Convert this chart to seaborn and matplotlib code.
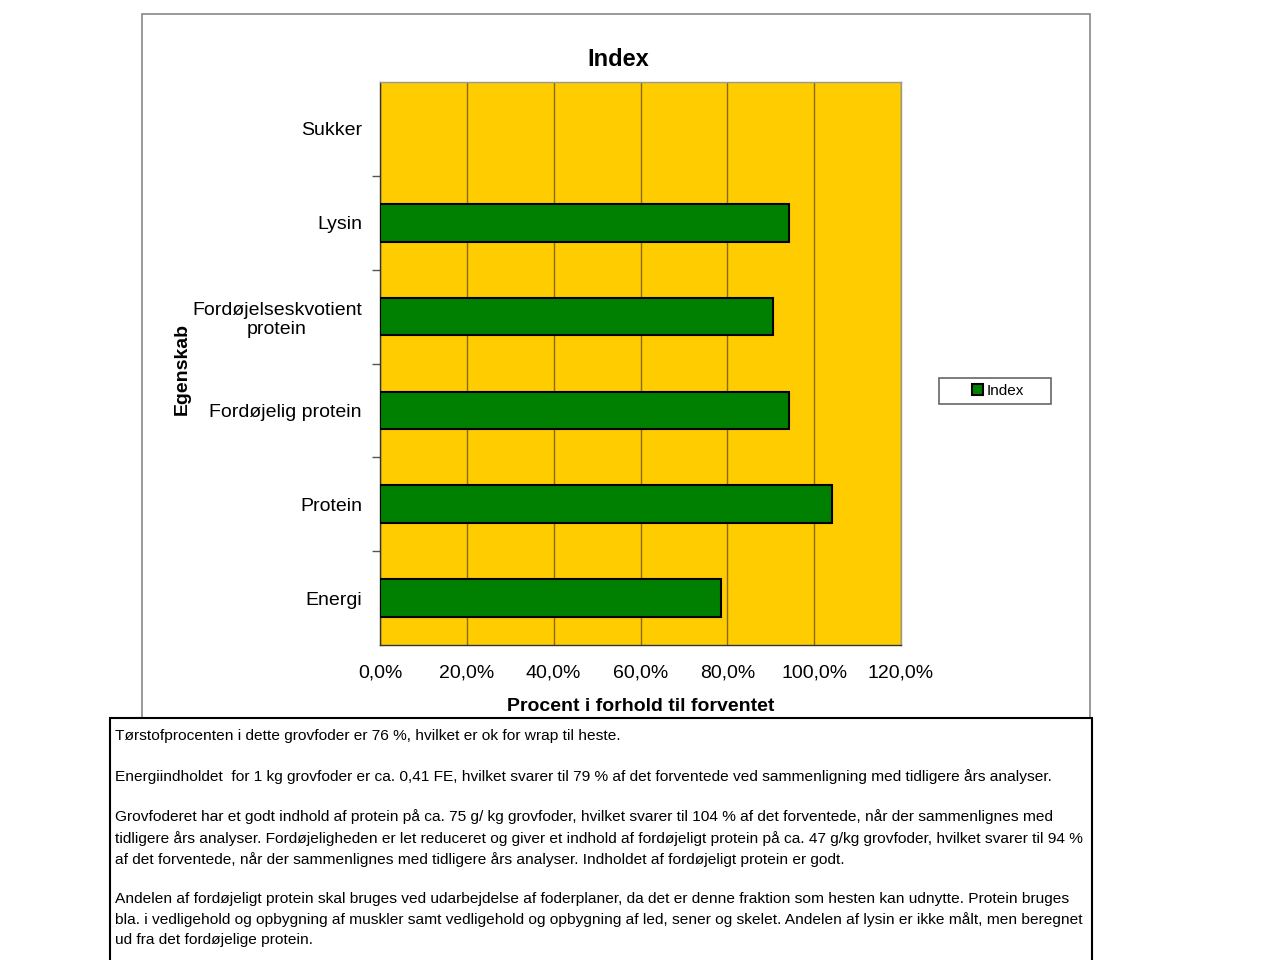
import matplotlib
matplotlib.use("Agg")
import matplotlib.pyplot as plt
import seaborn as sns
import pandas as pd
import numpy as np
from matplotlib.patches import Rectangle
from matplotlib.ticker import FuncFormatter, FixedLocator

categories = ["Sukker", "Lysin", "Fordøjelseskvotient\nprotein", "Fordøjelig protein", "Protein", "Energi"]
values = [np.nan, 0.942, 0.905, 0.942, 1.041, 0.786]
series_name = "Index"
xticks = [0.0, 0.2, 0.4, 0.6, 0.8, 1.0, 1.2]

note_lines = [
    "Tørstofprocenten i dette grovfoder er 76 %, hvilket er ok for wrap til heste.",
    "",
    "Energiindholdet  for 1 kg grovfoder er ca. 0,41 FE, hvilket svarer til 79 % af det forventede ved sammenligning med tidligere års analyser.",
    "",
    "Grovfoderet har et godt indhold af protein på ca. 75 g/ kg grovfoder, hvilket svarer til 104 % af det forventede, når der sammenlignes med",
    "tidligere års analyser. Fordøjeligheden er let reduceret og giver et indhold af fordøjeligt protein på ca. 47 g/kg grovfoder, hvilket svarer til 94 %",
    "af det forventede, når der sammenlignes med tidligere års analyser. Indholdet af fordøjeligt protein er godt.",
    "",
    "Andelen af fordøjeligt protein skal bruges ved udarbejdelse af foderplaner, da det er denne fraktion som hesten kan udnytte. Protein bruges",
    "bla. i vedligehold og opbygning af muskler samt vedligehold og opbygning af led, sener og skelet. Andelen af lysin er ikke målt, men beregnet",
    "ud fra det fordøjelige protein.",
]

sns.set_theme(style="white")
plt.rcParams['font.family'] = ['Liberation Sans', 'DejaVu Sans']
plt.rcParams['text.color'] = 'black'
plt.rcParams['axes.labelcolor'] = 'black'
plt.rcParams['xtick.color'] = 'black'
plt.rcParams['ytick.color'] = 'black'

df = pd.DataFrame({"Egenskab": categories, "Index": values, "serie": series_name})

fig = plt.figure(figsize=(12.8, 9.6), dpi=100)
fig.patch.set_facecolor("white")

# chart frame
fig.patches.append(Rectangle((142/1280, 1-718/960), (1090-142)/1280, (718-14)/960,
                             transform=fig.transFigure, facecolor="white",
                             edgecolor="#888888", linewidth=1.2, zorder=-2))

ax = fig.add_axes([380/1280, 1-645/960, (901-380)/1280, (645-82)/960])
ax.set_facecolor("#FFCC00")
sns.barplot(data=df, y="Egenskab", x="Index", hue="serie", orient="h",
            palette=["#008000"], saturation=1, edgecolor="black", linewidth=1.5,
            width=0.4, ax=ax, legend=True, zorder=3)

ax.set_xlim(0, 1.2)
ax.set_ylim(5.5, -0.5)
ax.xaxis.set_major_locator(FixedLocator(xticks))
ax.xaxis.set_major_formatter(FuncFormatter(lambda v, p: f"{v*100:.1f}%".replace(".", ",")))
ax.grid(axis="x", color="#8B6914", linewidth=1.0, zorder=1)
ax.set_axisbelow(True)
ax.tick_params(axis="x", labelsize=14, length=0, pad=14)
ax.tick_params(axis="y", labelsize=14, length=0, pad=13)
for lbl in ax.get_yticklabels():
    lbl.set_multialignment("center")
ax.yaxis.set_minor_locator(FixedLocator([0.5, 1.5, 2.5, 3.5, 4.5]))
ax.tick_params(axis="y", which="minor", length=6, width=1, color="#555555", left=True)
for s in ["top", "right"]:
    ax.spines[s].set_color("#999999")
    ax.spines[s].set_linewidth(1.0)
for s in ["left", "bottom"]:
    ax.spines[s].set_color("#333333")
    ax.spines[s].set_linewidth(1.0)

ax.set_title("")
fig.text(618/1280, 1-59/960, "Index", ha="center", va="center",
         fontsize=17, fontweight="bold", color="black")
ax.set_xlabel("Procent i forhold til forventet", fontsize=14, fontweight="bold", labelpad=12)
ax.set_ylabel("Egenskab", fontsize=14, fontweight="bold")
ax.yaxis.set_label_coords((191-380)/(901-380), 0.49)

leg = ax.legend(loc="center", bbox_to_anchor=(998/1280, 1-391/960),
                bbox_transform=fig.transFigure, frameon=False,
                fontsize=11, handlelength=0.7, handleheight=0.7, handletextpad=0.2,
                borderpad=0.3)
fig.patches.append(Rectangle((939/1280, 1-404/960), (1051-939)/1280, (404-378)/960,
                             transform=fig.transFigure, facecolor="white",
                             edgecolor="#666666", linewidth=1.2, zorder=-1))

# text box
fig.patches.append(Rectangle((110/1280, -0.01), (1092-110)/1280, (960-718)/960 + 0.01,
                             transform=fig.transFigure, facecolor="white",
                             edgecolor="black", linewidth=1.5, zorder=-1))
fig.text(115/1280, 1-729/960, "\n".join(note_lines), ha="left", va="top",
         fontsize=11.15, linespacing=1.51, color="black",
         family=["Liberation Sans Narrow", "Liberation Sans", "DejaVu Sans"])

fig.savefig("out.png", dpi=100, facecolor="white")
